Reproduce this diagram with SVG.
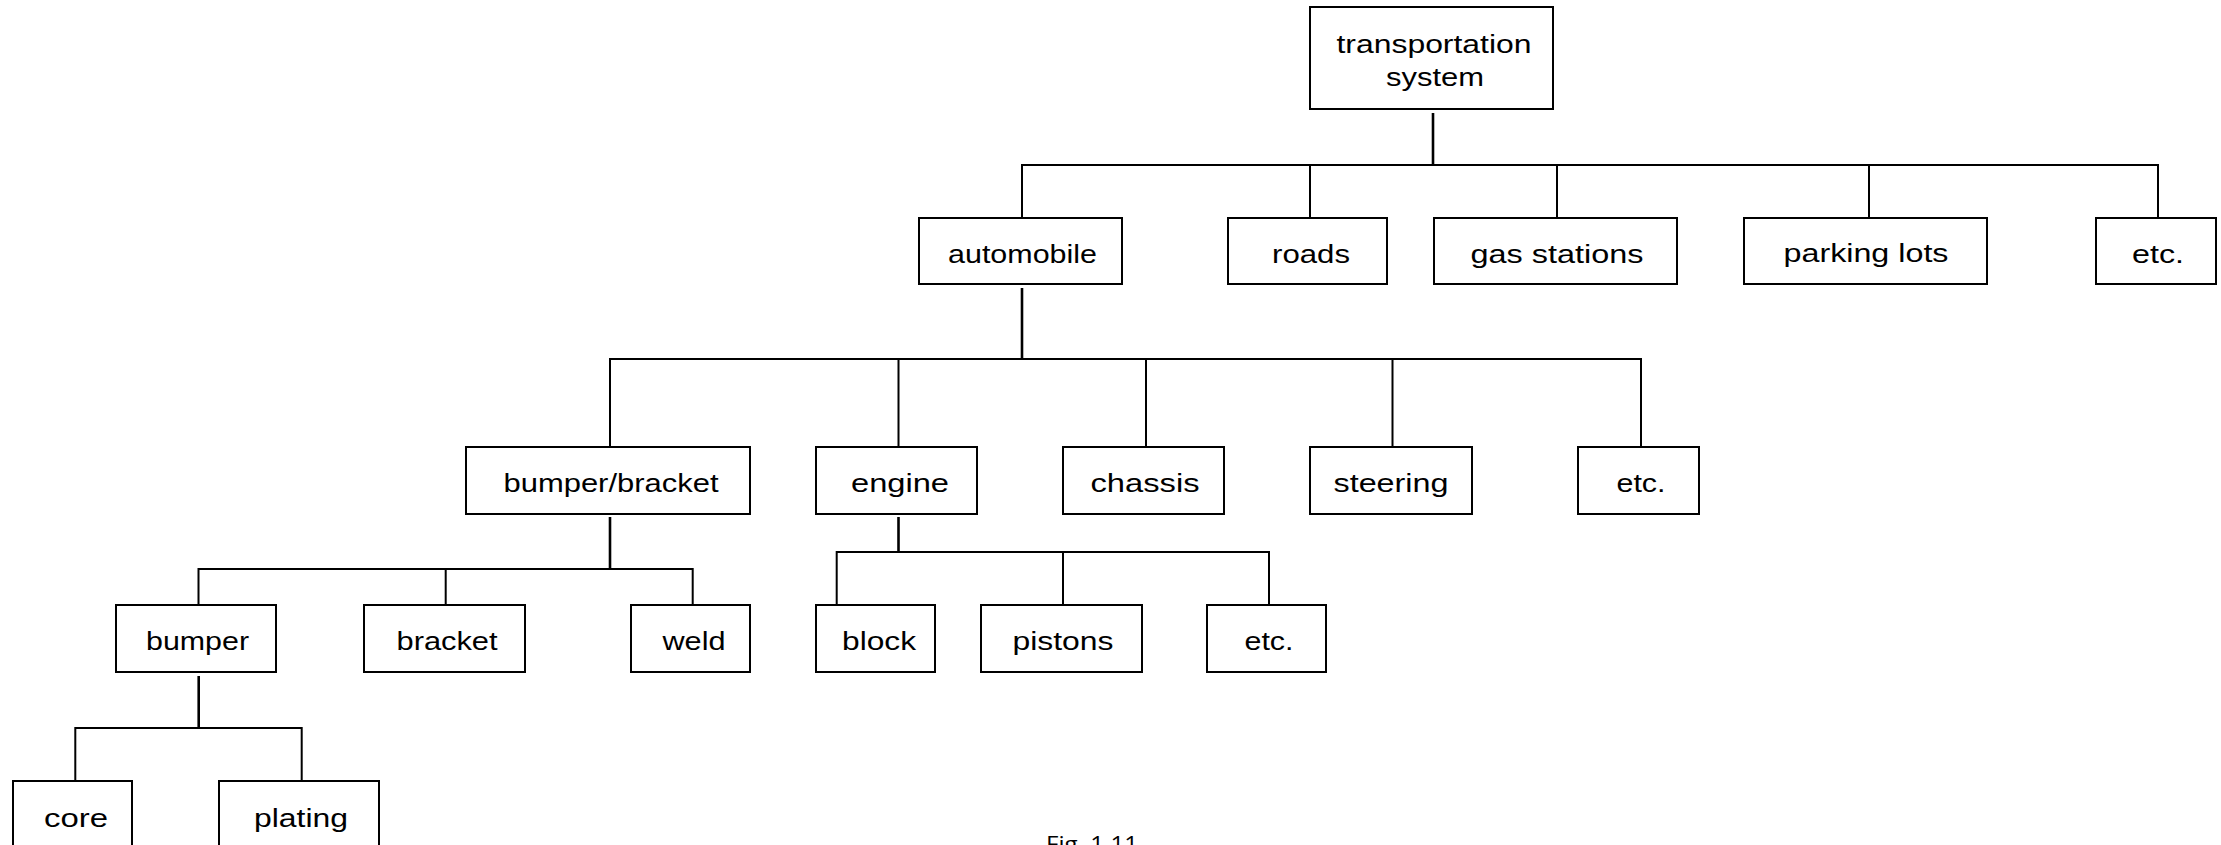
<svg xmlns="http://www.w3.org/2000/svg" width="2221" height="845" viewBox="0 0 2221 845">
<style>
.box{fill:#fff;stroke:#000;stroke-width:2}
.lbl{font-family:"Liberation Sans",Arial,sans-serif;font-size:25px;fill:#000;text-anchor:middle}
.con{fill:none;stroke:#000;stroke-width:2}
.stub{fill:none;stroke:#000;stroke-width:2.6}
.cap{font-family:"Open Sans","Liberation Sans",sans-serif;font-size:22px;fill:#000;text-anchor:middle}
</style>
<rect width="2221" height="845" fill="#fff"/>
<g id="connectors">
<path class="stub" d="M1433 113V165"/>
<path class="con" d="M1022 218V165H2158V218M1310 165V218M1557 165V218M1869 165V218"/>
<path class="stub" d="M1022 288V359"/>
<path class="con" d="M610 447V359H1641V447M898.5 359V447M1146 359V447M1392.5 359V447"/>
<path class="stub" d="M610 517V569"/>
<path class="con" d="M198.5 605V569H692.7V605M445.7 569V605"/>
<path class="stub" d="M898.5 517V552"/>
<path class="con" d="M836.7 605V552H1269V605M1063 552V605"/>
<path class="stub" d="M198.7 676V728"/>
<path class="con" d="M75.3 781V728H301.7V781"/>
</g>
<g id="n-transportation"><rect class="box" x="1310" y="7" width="243" height="102"/><text class="lbl" x="1434" y="53" textLength="195" lengthAdjust="spacingAndGlyphs">transportation</text><text class="lbl" x="1435" y="86" textLength="98" lengthAdjust="spacingAndGlyphs">system</text></g>
<g id="n-automobile"><rect class="box" x="919" y="218" width="203" height="66"/><text class="lbl" x="1022.5" y="263" textLength="149" lengthAdjust="spacingAndGlyphs">automobile</text></g>
<g id="n-roads"><rect class="box" x="1228" y="218" width="159" height="66"/><text class="lbl" x="1311" y="263" textLength="78" lengthAdjust="spacingAndGlyphs">roads</text></g>
<g id="n-gas"><rect class="box" x="1434" y="218" width="243" height="66"/><text class="lbl" x="1557" y="263" textLength="173" lengthAdjust="spacingAndGlyphs">gas stations</text></g>
<g id="n-parking"><rect class="box" x="1744" y="218" width="243" height="66"/><text class="lbl" x="1866" y="262" textLength="165" lengthAdjust="spacingAndGlyphs">parking lots</text></g>
<g id="n-etc1"><rect class="box" x="2096" y="218" width="120" height="66"/><text class="lbl" x="2158" y="263" textLength="52" lengthAdjust="spacingAndGlyphs">etc.</text></g>
<g id="n-bumperbracket"><rect class="box" x="466" y="447" width="284" height="67"/><text class="lbl" x="611" y="492" textLength="215" lengthAdjust="spacingAndGlyphs">bumper/bracket</text></g>
<g id="n-engine"><rect class="box" x="816" y="447" width="161" height="67"/><text class="lbl" x="900" y="492" textLength="98" lengthAdjust="spacingAndGlyphs">engine</text></g>
<g id="n-chassis"><rect class="box" x="1063" y="447" width="161" height="67"/><text class="lbl" x="1145" y="492" textLength="109" lengthAdjust="spacingAndGlyphs">chassis</text></g>
<g id="n-steering"><rect class="box" x="1310" y="447" width="162" height="67"/><text class="lbl" x="1391" y="492" textLength="115" lengthAdjust="spacingAndGlyphs">steering</text></g>
<g id="n-etc2"><rect class="box" x="1578" y="447" width="121" height="67"/><text class="lbl" x="1641" y="492" textLength="49" lengthAdjust="spacingAndGlyphs">etc.</text></g>
<g id="n-bumper"><rect class="box" x="116" y="605" width="160" height="67"/><text class="lbl" x="197.5" y="650" textLength="103" lengthAdjust="spacingAndGlyphs">bumper</text></g>
<g id="n-bracket"><rect class="box" x="364" y="605" width="161" height="67"/><text class="lbl" x="447" y="650" textLength="101" lengthAdjust="spacingAndGlyphs">bracket</text></g>
<g id="n-weld"><rect class="box" x="631" y="605" width="119" height="67"/><text class="lbl" x="694" y="650" textLength="63" lengthAdjust="spacingAndGlyphs">weld</text></g>
<g id="n-block"><rect class="box" x="816" y="605" width="119" height="67"/><text class="lbl" x="879" y="650" textLength="74" lengthAdjust="spacingAndGlyphs">block</text></g>
<g id="n-pistons"><rect class="box" x="981" y="605" width="161" height="67"/><text class="lbl" x="1063" y="650" textLength="101" lengthAdjust="spacingAndGlyphs">pistons</text></g>
<g id="n-etc3"><rect class="box" x="1207" y="605" width="119" height="67"/><text class="lbl" x="1269" y="650" textLength="49" lengthAdjust="spacingAndGlyphs">etc.</text></g>
<g id="n-core"><rect class="box" x="13" y="781" width="119" height="80"/><text class="lbl" x="76" y="827" textLength="64" lengthAdjust="spacingAndGlyphs">core</text></g>
<g id="n-plating"><rect class="box" x="219" y="781" width="160" height="80"/><text class="lbl" x="301" y="827" textLength="94" lengthAdjust="spacingAndGlyphs">plating</text></g>
<text class="cap" x="1092" y="852" textLength="92" lengthAdjust="spacingAndGlyphs">Fig. 1.11</text>
</svg>
